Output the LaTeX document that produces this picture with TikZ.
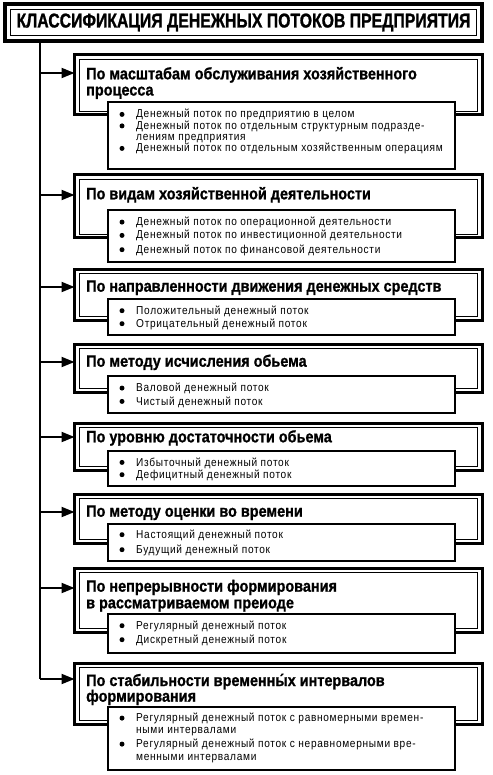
\documentclass[tikz,border=0pt]{standalone}
\usepackage{fontspec}
\setmainfont{Liberation Sans}
\newfontfamily\ttlfont{Liberation Sans Bold}[FakeStretch=0.79, FakeBold=1.2]
\newfontfamily\hdfont{Liberation Sans Bold}[FakeStretch=0.875, FakeBold=1]
\newfontfamily\itfont{Liberation Sans}[FakeStretch=0.88, LetterSpace=6]
\usetikzlibrary{arrows.meta}
\tikzset{
  catouter/.style={draw, line width=3pt, inner sep=0pt, outer sep=0pt, anchor=north west, minimum width=407.5pt},
  catinner/.style={draw, line width=0.8pt},
  subbox/.style={draw, line width=2.4pt, fill=white, inner sep=0pt, outer sep=0pt, anchor=north west, minimum width=347pt},
  head/.style={anchor=base west, inner sep=0pt, font=\hdfont\fontsize{16.5}{18}\selectfont},
  itm/.style={anchor=base west, inner sep=0pt, font=\itfont\fontsize{11.5}{12}\selectfont},
  bul/.style={circle, fill, inner sep=0pt, minimum size=5pt},
  arr/.style={-{Triangle[length=13pt,width=10pt]}, line width=2pt},
  trunk/.style={line width=2pt}
}
% name, top, bottom, subtop, subbottom, arrow y
\newcommand\mkcat[6]{%
  \node[catouter, minimum height={#3pt-#2pt}] (c#1) at (74.5,#2) {};
  \draw[catinner] ([shift={(4.5,4.5)}]c#1.north west) rectangle ([shift={(-4.5,-3.5)}]c#1.south east);
  \coordinate (j#1) at (40,#6);
  \draw[arr] (j#1) -- (j#1 -| c#1.west);
  \node[subbox, minimum height={#5pt-#4pt}] (s#1) at (108,#4) {};
}
\newcommand\mkitem[3]{%
  \node[bul] (b#1) at (122,#2-3.6) {};
  \node[itm] (i#1) at (136,#2) {#3};
}
\begin{document}
\begin{tikzpicture}[x=1pt,y=-1pt]
\useasboundingbox (0,0) rectangle (492,775);
% title
\node[draw, line width=3.5pt, inner sep=0pt, outer sep=0pt, anchor=north west,
      minimum width=477pt, minimum height=37pt,
      font=\ttlfont\fontsize{20}{22}\selectfont] (title) at (5,4)
      {КЛАССИФИКАЦИЯ ДЕНЕЖНЫХ ПОТОКОВ ПРЕДПРИЯТИЯ};
\draw[line width=1pt] ([shift={(5.5,5.5)}]title.north west) rectangle ([shift={(-5.5,-5.5)}]title.south east);
\coordinate (t0) at (title.south -| 40,0);
% categories
\mkcat{1}{55}{115}{102}{169}{73}
\mkcat{2}{175}{238}{210}{262}{195}
\mkcat{3}{269}{320}{299}{335}{287}
\mkcat{4}{344}{392}{376}{413}{362}
\mkcat{5}{423}{470}{451}{486}{437}
\mkcat{6}{494}{543}{524}{561}{512}
\mkcat{7}{568}{632}{614}{653}{588}
\mkcat{8}{663}{724}{707}{770}{679}
\draw[trunk] (t0) -- (j8);
% headings
\node[head] (h1a) at (86,79.3) {По масштабам обслуживания хозяйственного};
\node[head] (h1b) at (86,95.5) {процесса};
\node[head] (h2) at (86,199.3) {По видам хозяйственной деятельности};
\node[head] (h3) at (86,291.7) {По направленности движения денежных средств};
\node[head] (h4) at (86,366.7) {По методу исчисления обьема};
\node[head] (h5) at (86,442.3) {По уровню достаточности обьема};
\node[head] (h6) at (86,516.7) {По методу оценки во времени};
\node[head] (h7a) at (86,591.7) {По непрерывности формирования};
\node[head] (h7b) at (86,608.3) {в рассматриваемом преиоде};
\node[head] (h8a) at (86,686) {По стабильности временны́х интервалов};
\node[head] (h8b) at (86,701.7) {формирования};
% items
\mkitem{1a}{118}{Денежный поток по предприятию в целом}
\mkitem{1b}{129.5}{Денежный поток по отдельным структурным подразде-}
\node[itm] (i1c) at (136,140.5) {лениям предприятия};
\mkitem{1d}{152}{Денежный поток по отдельным хозяйственным операциям}
\mkitem{2a}{225.7}{Денежный поток по операционной деятельности}
\mkitem{2b}{239}{Денежный поток по инвестиционной деятельности}
\mkitem{2c}{253.3}{Денежный поток по финансовой деятельности}
\mkitem{3a}{314.3}{Положительный денежный поток}
\mkitem{3b}{327.3}{Отрицательный денежный поток}
\mkitem{4a}{391.7}{Валовой денежный поток}
\mkitem{4b}{405}{Чистый денежный поток}
\mkitem{5a}{466}{Избыточный денежный поток}
\mkitem{5b}{478.3}{Дефицитный денежный поток}
\mkitem{6a}{538.3}{Настоящий денежный поток}
\mkitem{6b}{553.3}{Будущий денежный поток}
\mkitem{7a}{629.3}{Регулярный денежный поток}
\mkitem{7b}{643.3}{Дискретный денежный поток}
\mkitem{8a}{721.7}{Регулярный денежный поток с равномерными времен-}
\node[itm] (i8b) at (136,733.3) {ными интервалами};
\mkitem{8c}{747.7}{Регулярный денежный поток с неравномерными вре-}
\node[itm] (i8d) at (136,760) {менными интервалами};
\end{tikzpicture}
\end{document}
